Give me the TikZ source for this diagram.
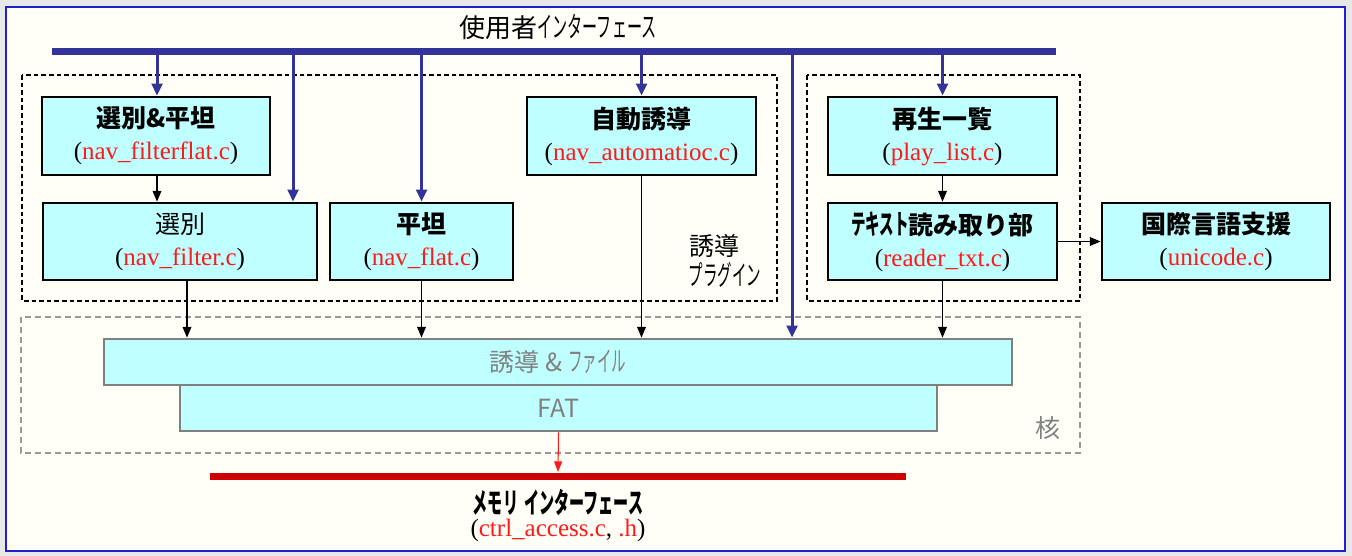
\documentclass[tikz,border=0pt]{standalone}
\usepackage{fontspec}
\usepackage{graphicx}
\setmainfont{Liberation Serif}
\newfontfamily\jp{Noto Sans CJK JP}
\newcommand\hw[1]{\scalebox{0.58}[1.1]{#1}}
\usetikzlibrary{arrows.meta}
\definecolor{bgray}{HTML}{E8E8E8}
\definecolor{ivory}{HTML}{FFFFF8}
\definecolor{frameblue}{HTML}{2020CC}
\definecolor{busblue}{HTML}{333399}
\definecolor{cyanfill}{HTML}{BFFFFF}
\definecolor{fred}{HTML}{FF1A1A}
\definecolor{busred}{HTML}{CC0000}
\definecolor{coregray}{HTML}{808080}
\definecolor{dashgray}{HTML}{999999}
\newcommand\fsz{\fontsize{18.75pt}{24pt}\selectfont}
\tikzset{
  modbox/.style={draw=black, line width=2.1pt, fill=cyanfill, align=center, inner sep=0pt, font=\fsz},
  corebox/.style={draw=coregray, line width=2.1pt, fill=cyanfill, inner sep=0pt, font=\jp\fsz, text=coregray},
  grpdash/.style={draw=black, line width=1.1pt, dash pattern=on 3.5pt off 2.2pt},
  coredash/.style={draw=dashgray, line width=1.1pt, dash pattern=on 4.5pt off 3pt},
  busline/.style={draw=busblue, line width=5.25pt},
  redbus/.style={draw=busred, line width=5.25pt},
  barrow/.style={draw=busblue, line width=2.25pt, -{Triangle[length=9pt,width=8pt]}},
  karrow/.style={draw=black, line width=0.9pt, -{Triangle[length=8pt,width=6.5pt]}},
  rarrow/.style={draw=fred, line width=0.8pt, -{Triangle[length=8pt,width=6pt]}},
  lbl/.style={inner sep=0pt, align=center, font=\fsz}
}
\begin{document}
\begin{tikzpicture}[x=0.75pt, y={(0pt,-0.75pt)}]
% background and frame
\fill[bgray] (0,0) rectangle (1352,556);
\useasboundingbox (0,0) rectangle (1352,556);
\draw[frameblue, line width=1.5pt, fill=ivory] (6,7) rectangle (1345,551);

% title and user bus
\node[lbl, font=\jp\fontsize{19.5pt}{24pt}\selectfont] (title) at (558,27) {使用者\hw{インターフェース}};
\coordinate (busL) at (52,52);
\coordinate (busR) at (1056,52);
\draw[busline] (busL) -- (busR);

% group frames
\draw[grpdash] (22,75) rectangle (777,301);
\draw[grpdash] (807,75) rectangle (1080,301);
\draw[coredash] (21,317) rectangle (1080,453);

% module boxes
\node[modbox, minimum width=171pt, minimum height=58.5pt] (sf) at (156,136)
  {{\jp\bfseries 選別\&平坦}\\(\textcolor{fred}{nav\_filterflat.c})};
\node[modbox, minimum width=205.5pt, minimum height=57.75pt] (filter) at (180,241.5)
  {{\jp 選別}\\(\textcolor{fred}{nav\_filter.c})};
\node[modbox, minimum width=137.25pt, minimum height=57.75pt] (flat) at (421.5,241.5)
  {{\jp\bfseries 平坦}\\(\textcolor{fred}{nav\_flat.c})};
\node[modbox, minimum width=171.75pt, minimum height=58.5pt] (auto) at (641.5,136)
  {{\jp\bfseries 自動誘導}\\(\textcolor{fred}{nav\_automatioc.c})};
\node[modbox, minimum width=171.75pt, minimum height=58.5pt] (play) at (942.5,136)
  {{\jp\bfseries 再生一覧}\\(\textcolor{fred}{play\_list.c})};
\node[modbox, minimum width=171.75pt, minimum height=57.75pt] (reader) at (942.5,241.5)
  {{\jp\bfseries \hw{テキスト}読み取り部}\\(\textcolor{fred}{reader\_txt.c})};
\node[modbox, minimum width=171pt, minimum height=57.75pt] (uni) at (1216,241.5)
  {{\jp\bfseries 国際言語支援}\\(\textcolor{fred}{unicode.c})};

% plugin label
\node[lbl, font=\jp\fontsize{18.75pt}{23pt}\selectfont] (plug1) at (714,246) {誘導};
\node[lbl, font=\jp\fontsize{18.75pt}{23pt}\selectfont] (plug2) at (725,275) {\hw{プラグイン}};

% core boxes
\node[corebox, minimum width=681pt, minimum height=34.5pt] (core1) at (558,362) {誘導 \& \hw{ファイル}};
\node[corebox, minimum width=567.75pt, minimum height=34.5pt] (fat) at (558.5,408) {FAT};
\node[lbl, font=\jp\fsz, text=coregray] (kaku) at (1048,428) {核};

% memory interface
\coordinate (rbL) at (210,476);
\coordinate (rbR) at (906,476);
\draw[redbus] (rbL) -- (rbR);
\coordinate (rbTop) at (558,472);
\node[lbl, font=\jp\bfseries\fontsize{19.5pt}{24pt}\selectfont] (memlbl) at (558,502) {\hw{メモリ} \hw{インターフェース}};
\node[lbl] (memfile) at (558,530) {(\textcolor{fred}{ctrl\_access.c}, \textcolor{fred}{.h})};

% blue arrows from user bus
\coordinate (b1) at (157,52);
\coordinate (b2) at (293,52);
\coordinate (b3) at (421.5,52);
\coordinate (b4) at (641.5,52);
\coordinate (b5) at (792,52);
\coordinate (b6) at (942.5,52);
\draw[barrow] (b1) -- (b1 |- sf.north);
\draw[barrow] (b2) -- (b2 |- filter.north);
\draw[barrow] (b3) -- (b3 |- flat.north);
\draw[barrow] (b4) -- (b4 |- auto.north);
\draw[barrow] (b5) -- (b5 |- core1.north);
\draw[barrow] (b6) -- (b6 |- play.north);

% black arrows
\coordinate (k1) at (187,0);
\draw[karrow] (sf.south -| b1) -- (b1 |- filter.north);
\draw[karrow] (filter.south -| k1) -- (k1 |- core1.north);
\draw[karrow] (flat.south) -- (flat.south |- core1.north);
\draw[karrow] (auto.south) -- (auto.south |- core1.north);
\draw[karrow] (play.south) -- (reader.north);
\draw[karrow] (reader.south) -- (reader.south |- core1.north);
\draw[karrow] (reader.east) -- (uni.west);

% red arrow
\draw[rarrow] (fat.south) -- (rbTop);
\end{tikzpicture}
\end{document}
